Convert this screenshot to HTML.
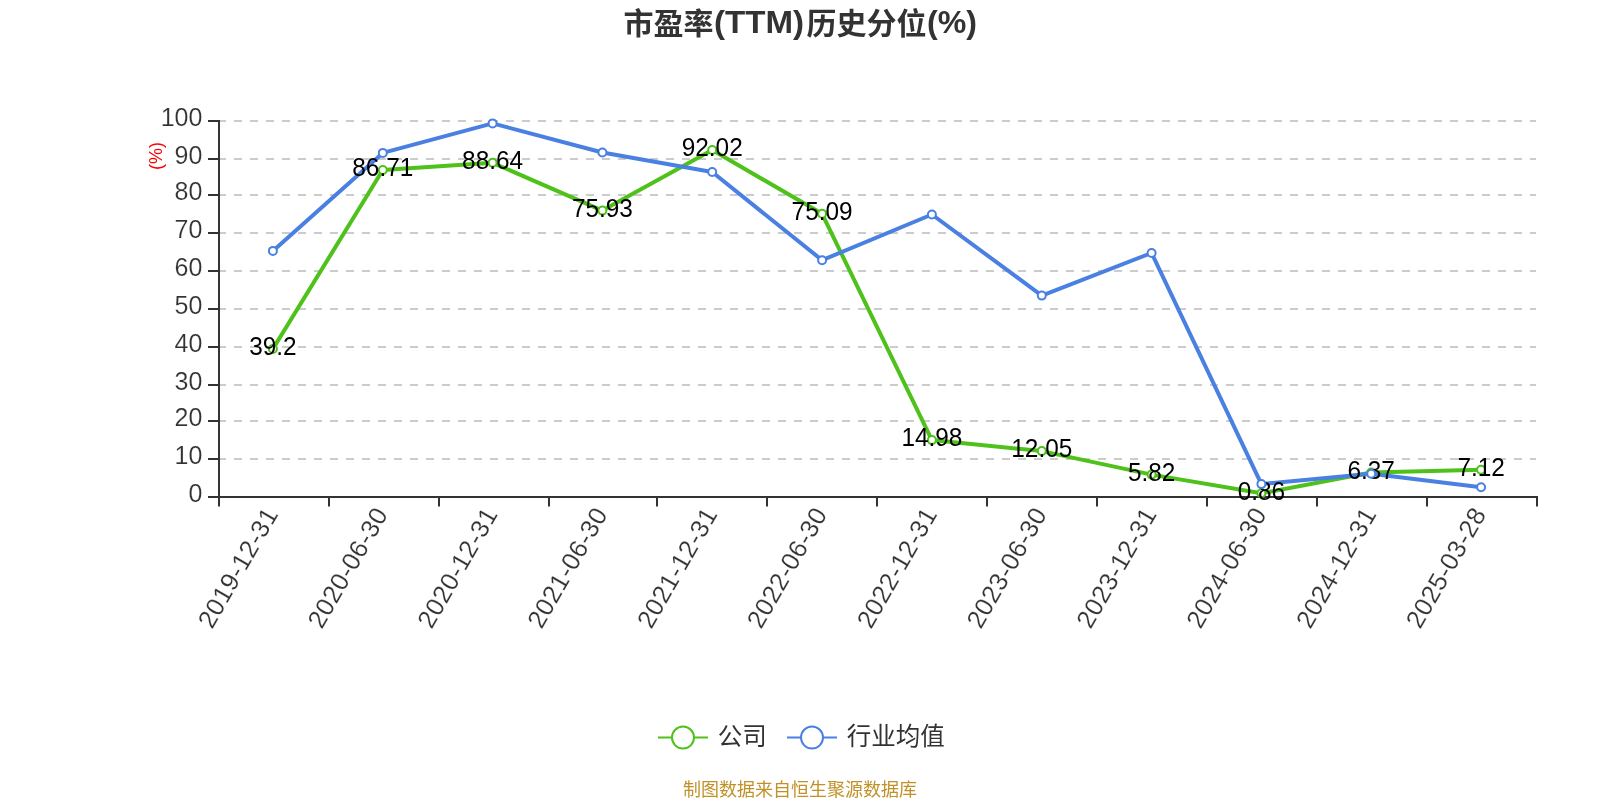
<!DOCTYPE html>
<html lang="zh-CN"><head><meta charset="utf-8"><title>市盈率(TTM)历史分位(%)</title>
<style>html,body{margin:0;padding:0;background:#fff;}body{width:1600px;height:800px;overflow:hidden;}svg{display:block;font-family:"Liberation Sans","Noto Sans CJK SC",sans-serif;will-change:transform;}</style></head><body>
<svg width="1600" height="800" viewBox="0 0 1600 800">
<rect width="1600" height="800" fill="#fff"/>
<g font-weight="bold" fill="#333">
<text x="623.5" y="34" font-size="30">市盈率</text>
<text x="714" y="32.5" font-size="31" textLength="90" lengthAdjust="spacingAndGlyphs">(TTM)</text>
<text x="806.5" y="34" font-size="30">历史分位</text>
<text x="927" y="32.5" font-size="31" textLength="50" lengthAdjust="spacingAndGlyphs">(%)</text>
</g>
<line x1="218.00" y1="459.0" x2="1536.0" y2="459.0" stroke="#ccc" stroke-width="2" stroke-dasharray="8 8"/>
<line x1="218.00" y1="421.0" x2="1536.0" y2="421.0" stroke="#ccc" stroke-width="2" stroke-dasharray="8 8"/>
<line x1="218.00" y1="385.0" x2="1536.0" y2="385.0" stroke="#ccc" stroke-width="2" stroke-dasharray="8 8"/>
<line x1="218.00" y1="347.0" x2="1536.0" y2="347.0" stroke="#ccc" stroke-width="2" stroke-dasharray="8 8"/>
<line x1="218.00" y1="309.0" x2="1536.0" y2="309.0" stroke="#ccc" stroke-width="2" stroke-dasharray="8 8"/>
<line x1="218.00" y1="271.0" x2="1536.0" y2="271.0" stroke="#ccc" stroke-width="2" stroke-dasharray="8 8"/>
<line x1="218.00" y1="233.0" x2="1536.0" y2="233.0" stroke="#ccc" stroke-width="2" stroke-dasharray="8 8"/>
<line x1="218.00" y1="195.0" x2="1536.0" y2="195.0" stroke="#ccc" stroke-width="2" stroke-dasharray="8 8"/>
<line x1="218.00" y1="159.0" x2="1536.0" y2="159.0" stroke="#ccc" stroke-width="2" stroke-dasharray="8 8"/>
<line x1="218.00" y1="121.0" x2="1536.0" y2="121.0" stroke="#ccc" stroke-width="2" stroke-dasharray="8 8"/>
<line x1="219.0" y1="120.0" x2="219.0" y2="498.0" stroke="#333" stroke-width="2"/>
<line x1="208.0" y1="497.0" x2="219.0" y2="497.0" stroke="#333" stroke-width="2"/>
<text transform="translate(202.4,502.1) scale(1,1.06)" text-anchor="end" font-size="25" fill="#333" stroke="#fff" stroke-width="0.16">0</text>
<line x1="208.0" y1="459.0" x2="219.0" y2="459.0" stroke="#333" stroke-width="2"/>
<text transform="translate(202.4,464.1) scale(1,1.06)" text-anchor="end" font-size="25" fill="#333" stroke="#fff" stroke-width="0.16">10</text>
<line x1="208.0" y1="421.0" x2="219.0" y2="421.0" stroke="#333" stroke-width="2"/>
<text transform="translate(202.4,426.1) scale(1,1.06)" text-anchor="end" font-size="25" fill="#333" stroke="#fff" stroke-width="0.16">20</text>
<line x1="208.0" y1="385.0" x2="219.0" y2="385.0" stroke="#333" stroke-width="2"/>
<text transform="translate(202.4,390.1) scale(1,1.06)" text-anchor="end" font-size="25" fill="#333" stroke="#fff" stroke-width="0.16">30</text>
<line x1="208.0" y1="347.0" x2="219.0" y2="347.0" stroke="#333" stroke-width="2"/>
<text transform="translate(202.4,352.1) scale(1,1.06)" text-anchor="end" font-size="25" fill="#333" stroke="#fff" stroke-width="0.16">40</text>
<line x1="208.0" y1="309.0" x2="219.0" y2="309.0" stroke="#333" stroke-width="2"/>
<text transform="translate(202.4,314.1) scale(1,1.06)" text-anchor="end" font-size="25" fill="#333" stroke="#fff" stroke-width="0.16">50</text>
<line x1="208.0" y1="271.0" x2="219.0" y2="271.0" stroke="#333" stroke-width="2"/>
<text transform="translate(202.4,276.1) scale(1,1.06)" text-anchor="end" font-size="25" fill="#333" stroke="#fff" stroke-width="0.16">60</text>
<line x1="208.0" y1="233.0" x2="219.0" y2="233.0" stroke="#333" stroke-width="2"/>
<text transform="translate(202.4,238.1) scale(1,1.06)" text-anchor="end" font-size="25" fill="#333" stroke="#fff" stroke-width="0.16">70</text>
<line x1="208.0" y1="195.0" x2="219.0" y2="195.0" stroke="#333" stroke-width="2"/>
<text transform="translate(202.4,200.1) scale(1,1.06)" text-anchor="end" font-size="25" fill="#333" stroke="#fff" stroke-width="0.16">80</text>
<line x1="208.0" y1="159.0" x2="219.0" y2="159.0" stroke="#333" stroke-width="2"/>
<text transform="translate(202.4,164.1) scale(1,1.06)" text-anchor="end" font-size="25" fill="#333" stroke="#fff" stroke-width="0.16">90</text>
<line x1="208.0" y1="121.0" x2="219.0" y2="121.0" stroke="#333" stroke-width="2"/>
<text transform="translate(202.4,126.1) scale(1,1.06)" text-anchor="end" font-size="25" fill="#333" stroke="#fff" stroke-width="0.16">100</text>
<text transform="translate(162,156) rotate(-90)" text-anchor="middle" font-size="18" fill="#f00">(%)</text>
<line x1="218.0" y1="497.0" x2="1538.0" y2="497.0" stroke="#333" stroke-width="2"/>
<line x1="219.0" y1="497.0" x2="219.0" y2="506.5" stroke="#333" stroke-width="2"/>
<line x1="329.0" y1="497.0" x2="329.0" y2="506.5" stroke="#333" stroke-width="2"/>
<line x1="439.0" y1="497.0" x2="439.0" y2="506.5" stroke="#333" stroke-width="2"/>
<line x1="549.0" y1="497.0" x2="549.0" y2="506.5" stroke="#333" stroke-width="2"/>
<line x1="657.0" y1="497.0" x2="657.0" y2="506.5" stroke="#333" stroke-width="2"/>
<line x1="767.0" y1="497.0" x2="767.0" y2="506.5" stroke="#333" stroke-width="2"/>
<line x1="877.0" y1="497.0" x2="877.0" y2="506.5" stroke="#333" stroke-width="2"/>
<line x1="987.0" y1="497.0" x2="987.0" y2="506.5" stroke="#333" stroke-width="2"/>
<line x1="1097.0" y1="497.0" x2="1097.0" y2="506.5" stroke="#333" stroke-width="2"/>
<line x1="1207.0" y1="497.0" x2="1207.0" y2="506.5" stroke="#333" stroke-width="2"/>
<line x1="1317.0" y1="497.0" x2="1317.0" y2="506.5" stroke="#333" stroke-width="2"/>
<line x1="1427.0" y1="497.0" x2="1427.0" y2="506.5" stroke="#333" stroke-width="2"/>
<line x1="1537.0" y1="497.0" x2="1537.0" y2="506.5" stroke="#333" stroke-width="2"/>
<text transform="translate(278.9,514.0) rotate(-60)" text-anchor="end" font-size="25.5" letter-spacing="0.35" fill="#333" stroke="#fff" stroke-width="0.16">2019-12-31</text>
<text transform="translate(388.8,514.0) rotate(-60)" text-anchor="end" font-size="25.5" letter-spacing="0.35" fill="#333" stroke="#fff" stroke-width="0.16">2020-06-30</text>
<text transform="translate(498.6,514.0) rotate(-60)" text-anchor="end" font-size="25.5" letter-spacing="0.35" fill="#333" stroke="#fff" stroke-width="0.16">2020-12-31</text>
<text transform="translate(608.4,514.0) rotate(-60)" text-anchor="end" font-size="25.5" letter-spacing="0.35" fill="#333" stroke="#fff" stroke-width="0.16">2021-06-30</text>
<text transform="translate(718.2,514.0) rotate(-60)" text-anchor="end" font-size="25.5" letter-spacing="0.35" fill="#333" stroke="#fff" stroke-width="0.16">2021-12-31</text>
<text transform="translate(828.1,514.0) rotate(-60)" text-anchor="end" font-size="25.5" letter-spacing="0.35" fill="#333" stroke="#fff" stroke-width="0.16">2022-06-30</text>
<text transform="translate(937.9,514.0) rotate(-60)" text-anchor="end" font-size="25.5" letter-spacing="0.35" fill="#333" stroke="#fff" stroke-width="0.16">2022-12-31</text>
<text transform="translate(1047.8,514.0) rotate(-60)" text-anchor="end" font-size="25.5" letter-spacing="0.35" fill="#333" stroke="#fff" stroke-width="0.16">2023-06-30</text>
<text transform="translate(1157.6,514.0) rotate(-60)" text-anchor="end" font-size="25.5" letter-spacing="0.35" fill="#333" stroke="#fff" stroke-width="0.16">2023-12-31</text>
<text transform="translate(1267.4,514.0) rotate(-60)" text-anchor="end" font-size="25.5" letter-spacing="0.35" fill="#333" stroke="#fff" stroke-width="0.16">2024-06-30</text>
<text transform="translate(1377.2,514.0) rotate(-60)" text-anchor="end" font-size="25.5" letter-spacing="0.35" fill="#333" stroke="#fff" stroke-width="0.16">2024-12-31</text>
<text transform="translate(1487.1,514.0) rotate(-60)" text-anchor="end" font-size="25.5" letter-spacing="0.35" fill="#333" stroke="#fff" stroke-width="0.16">2025-03-28</text>
<polyline points="272.9,348.9 382.8,170.0 492.6,162.8 602.4,210.6 712.2,150.0 822.1,213.8 931.9,440.1 1041.8,451.1 1151.6,474.6 1261.4,493.3 1371.2,472.5 1481.1,469.7" fill="none" stroke="#4fc11b" stroke-width="4" stroke-linejoin="bevel"/>
<polyline points="272.9,250.9 382.8,152.9 492.6,123.4 602.4,152.5 712.2,172.0 822.1,260.2 931.9,214.5 1041.8,295.6 1151.6,253.0 1261.4,484.1 1371.2,473.8 1481.1,487.2" fill="none" stroke="#4a80e2" stroke-width="4" stroke-linejoin="bevel"/>
<circle cx="272.9" cy="348.9" r="4" fill="#fff" stroke="#4fc11b" stroke-width="2"/>
<circle cx="382.8" cy="170.0" r="4" fill="#fff" stroke="#4fc11b" stroke-width="2"/>
<circle cx="492.6" cy="162.8" r="4" fill="#fff" stroke="#4fc11b" stroke-width="2"/>
<circle cx="602.4" cy="210.6" r="4" fill="#fff" stroke="#4fc11b" stroke-width="2"/>
<circle cx="712.2" cy="150.0" r="4" fill="#fff" stroke="#4fc11b" stroke-width="2"/>
<circle cx="822.1" cy="213.8" r="4" fill="#fff" stroke="#4fc11b" stroke-width="2"/>
<circle cx="931.9" cy="440.1" r="4" fill="#fff" stroke="#4fc11b" stroke-width="2"/>
<circle cx="1041.8" cy="451.1" r="4" fill="#fff" stroke="#4fc11b" stroke-width="2"/>
<circle cx="1151.6" cy="474.6" r="4" fill="#fff" stroke="#4fc11b" stroke-width="2"/>
<circle cx="1261.4" cy="493.3" r="4" fill="#fff" stroke="#4fc11b" stroke-width="2"/>
<circle cx="1371.2" cy="472.5" r="4" fill="#fff" stroke="#4fc11b" stroke-width="2"/>
<circle cx="1481.1" cy="469.7" r="4" fill="#fff" stroke="#4fc11b" stroke-width="2"/>
<text transform="translate(272.9,355.2) scale(0.975,1.03)" text-anchor="middle" font-size="25" fill="#000">39.2</text>
<text transform="translate(382.8,176.3) scale(0.975,1.03)" text-anchor="middle" font-size="25" fill="#000">86.71</text>
<text transform="translate(492.6,169.1) scale(0.975,1.03)" text-anchor="middle" font-size="25" fill="#000">88.64</text>
<text transform="translate(602.4,216.9) scale(0.975,1.03)" text-anchor="middle" font-size="25" fill="#000">75.93</text>
<text transform="translate(712.2,156.3) scale(0.975,1.03)" text-anchor="middle" font-size="25" fill="#000">92.02</text>
<text transform="translate(822.1,220.1) scale(0.975,1.03)" text-anchor="middle" font-size="25" fill="#000">75.09</text>
<text transform="translate(931.9,446.4) scale(0.975,1.03)" text-anchor="middle" font-size="25" fill="#000">14.98</text>
<text transform="translate(1041.8,457.4) scale(0.975,1.03)" text-anchor="middle" font-size="25" fill="#000">12.05</text>
<text transform="translate(1151.6,480.9) scale(0.975,1.03)" text-anchor="middle" font-size="25" fill="#000">5.82</text>
<text transform="translate(1261.4,499.6) scale(0.975,1.03)" text-anchor="middle" font-size="25" fill="#000">0.86</text>
<text transform="translate(1371.2,478.8) scale(0.975,1.03)" text-anchor="middle" font-size="25" fill="#000">6.37</text>
<text transform="translate(1481.1,476.0) scale(0.975,1.03)" text-anchor="middle" font-size="25" fill="#000">7.12</text>
<circle cx="272.9" cy="250.9" r="4" fill="#fff" stroke="#4a80e2" stroke-width="2"/>
<circle cx="382.8" cy="152.9" r="4" fill="#fff" stroke="#4a80e2" stroke-width="2"/>
<circle cx="492.6" cy="123.4" r="4" fill="#fff" stroke="#4a80e2" stroke-width="2"/>
<circle cx="602.4" cy="152.5" r="4" fill="#fff" stroke="#4a80e2" stroke-width="2"/>
<circle cx="712.2" cy="172.0" r="4" fill="#fff" stroke="#4a80e2" stroke-width="2"/>
<circle cx="822.1" cy="260.2" r="4" fill="#fff" stroke="#4a80e2" stroke-width="2"/>
<circle cx="931.9" cy="214.5" r="4" fill="#fff" stroke="#4a80e2" stroke-width="2"/>
<circle cx="1041.8" cy="295.6" r="4" fill="#fff" stroke="#4a80e2" stroke-width="2"/>
<circle cx="1151.6" cy="253.0" r="4" fill="#fff" stroke="#4a80e2" stroke-width="2"/>
<circle cx="1261.4" cy="484.1" r="4" fill="#fff" stroke="#4a80e2" stroke-width="2"/>
<circle cx="1371.2" cy="473.8" r="4" fill="#fff" stroke="#4a80e2" stroke-width="2"/>
<circle cx="1481.1" cy="487.2" r="4" fill="#fff" stroke="#4a80e2" stroke-width="2"/>
<line x1="658.0" y1="737.6" x2="708.0" y2="737.6" stroke="#4fc11b" stroke-width="2"/>
<circle cx="683.0" cy="737.6" r="11" fill="#fff" stroke="#4fc11b" stroke-width="2"/>
<text x="717.7" y="745.3" font-size="24.5" fill="#333">公司</text>
<line x1="787.0" y1="737.6" x2="837.0" y2="737.6" stroke="#4a80e2" stroke-width="2"/>
<circle cx="812.0" cy="737.6" r="11" fill="#fff" stroke="#4a80e2" stroke-width="2"/>
<text x="846.7" y="745.3" font-size="24.5" fill="#333">行业均值</text>
<text x="800" y="796" text-anchor="middle" font-size="18" fill="#c19128">制图数据来自恒生聚源数据库</text>
</svg></body></html>
